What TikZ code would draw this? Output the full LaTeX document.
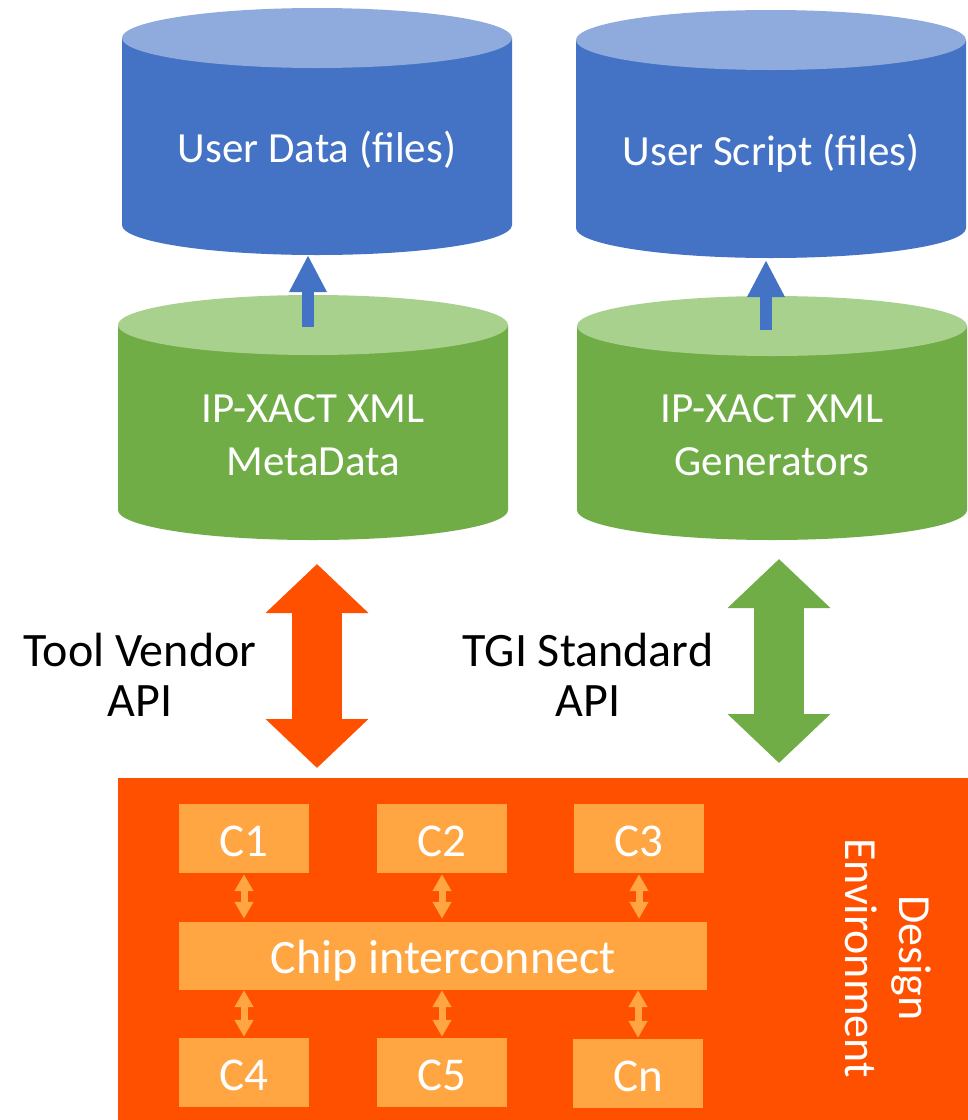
\documentclass[tikz,border=0pt]{standalone}
\usepackage{fontspec}
\setmainfont{Carlito}
\usetikzlibrary{arrows.meta}

\definecolor{blueBody}{HTML}{4472C4}
\definecolor{blueTop}{HTML}{8FAADC}
\definecolor{greenBody}{HTML}{70AD47}
\definecolor{greenTop}{HTML}{A9D18E}
\definecolor{envOrange}{HTML}{FF5000}
\definecolor{partOrange}{HTML}{FFA643}

% #1 centre x, #2 top ellipse y, #3 bottom ellipse y, #4 x radius, #5 y radius, #6 body, #7 lid
\newcommand\drumshape[7]{%
  \fill[#6] (#1-#4,-#2) -- (#1-#4,-#3)
    arc[start angle=180,end angle=360,x radius=#4,y radius=#5]
    -- (#1+#4,-#2) -- cycle;
  \fill[#7] (#1,-#2) ellipse[x radius=#4,y radius=#5];
}

\tikzset{
  drumtext/.style={text=white,align=center,font=\fontsize{43}{53}\selectfont},
  apitext/.style={text=black,align=center,font=\fontsize{48}{50}\selectfont},
  part/.style={fill=partOrange,text=white,minimum width=130pt,minimum height=69pt,
    inner sep=0pt,text height=35pt,text depth=0pt,font=\fontsize{47}{50}\selectfont},
  liftarrow/.style={draw=blueBody,line width=12pt,-{Triangle[width=35pt,length=37pt]}},
  bigboth/.style={draw=#1,line width=50pt,
    {Triangle[width=100pt,length=49pt]}-{Triangle[width=100pt,length=49pt]}},
  smallboth/.style={draw=partOrange,line width=7pt,
    {Triangle[width=18pt,length=17pt]}-{Triangle[width=18pt,length=17pt]}},
}

\begin{document}
\begin{tikzpicture}[x=1pt,y=1pt]
  \fill[white] (0,0) rectangle (968,-1120);
  \useasboundingbox (0,0) rectangle (968,-1120);

  % storage drums
  \drumshape{317}{38}{225}{195}{30}{blueBody}{blueTop}
  \drumshape{771}{40}{228}{195}{30}{blueBody}{blueTop}
  \drumshape{313}{325}{510}{195}{30}{greenBody}{greenTop}
  \drumshape{772}{326}{510}{195}{30}{greenBody}{greenTop}

  \node[drumtext] (udata) at (317,-150) {User Data (files)};
  \node[drumtext] (uscript) at (771,-153) {User Script (files)};
  \node[drumtext] (meta) at (313,-435) {IP-XACT XML\\MetaData};
  \node[drumtext] (gens) at (772,-435) {IP-XACT XML\\Generators};

  % arrow ends on the drum lids
  \coordinate (metaLid) at (308,-327);
  \coordinate (udataBase) at (308,-255);
  \coordinate (gensLid) at (766,-330);
  \coordinate (uscriptBase) at (766,-260);
  \draw[liftarrow] (metaLid) -- (udataBase);
  \draw[liftarrow] (gensLid) -- (uscriptBase);

  % API links
  \coordinate (vendTop) at (317,-564);
  \coordinate (vendBot) at (317,-768);
  \coordinate (tgiTop) at (779,-559);
  \coordinate (tgiBot) at (779,-763);
  \draw[bigboth=envOrange] (vendTop) -- (vendBot);
  \draw[bigboth=greenBody] (tgiTop) -- (tgiBot);

  \node[apitext] (vendor) at (140,-675) {Tool Vendor\\API};
  \node[apitext] (tgi) at (588,-675) {TGI Standard\\API};

  % design environment
  \fill[envOrange] (118,-778) rectangle (968,-1120);
  \node[text=white,align=center,rotate=-90,font=\fontsize{46}{54}\selectfont]
    (env) at (888,-958) {Design\\Environment};

  \node[part] (c1) at (244,-838.5) {C1};
  \node[part] (c2) at (442,-838.5) {C2};
  \node[part] (c3) at (639,-838.5) {C3};
  \node[part,minimum width=528pt,minimum height=68pt,font=\fontsize{48}{50}\selectfont]
    (ic) at (443,-956) {Chip interconnect};
  \node[part] (c4) at (244,-1072.5) {C4};
  \node[part] (c5) at (442,-1072.5) {C5};
  \node[part] (cn) at (638,-1073.5) {Cn};

  \foreach \c in {c1,c2,c3}
    \draw[smallboth,shorten <=1pt,shorten >=3pt] (\c.south) -- (\c.south |- ic.north);
  \foreach \c in {c4,c5,cn}
    \draw[smallboth,shorten <=0pt,shorten >=1pt] (\c.north |- ic.south) -- (\c.north);
\end{tikzpicture}
\end{document}
